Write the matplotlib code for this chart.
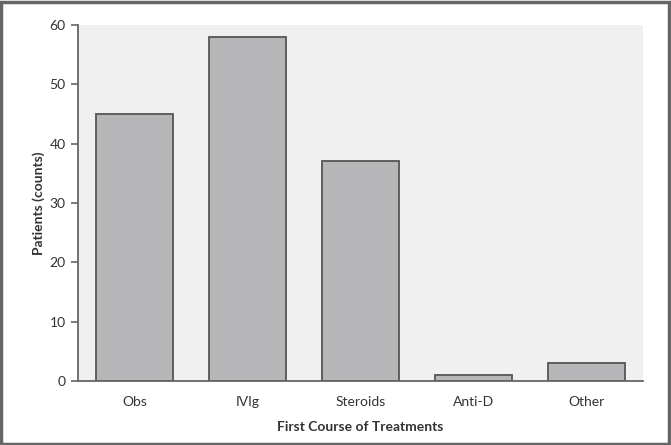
import matplotlib
matplotlib.use("Agg")
import matplotlib.pyplot as plt
from matplotlib.patches import Rectangle

categories = ["Obs", "IVIg", "Steroids", "Anti-D", "Other"]
counts = [45, 58, 37, 1, 3]
yticks = [0, 10, 20, 30, 40, 50, 60]

plt.rcParams['font.family'] = ['Lato', 'DejaVu Sans']

fig = plt.figure(figsize=(6.71, 4.45), dpi=100)
ax = fig.add_axes([78/671, 1-381/445, (643-78)/671, (381-25)/445])
ax.set_facecolor("#f0f0f0")

x = list(range(len(categories)))
ax.bar(x, counts, width=0.68, color="#b7b7b9", edgecolor="#555555", linewidth=1.3, zorder=2)

ax.set_xlim(-0.5, len(categories) - 0.5)
ax.set_ylim(0, 60)
ax.set_yticks(yticks)
ax.set_xticks(x)
ax.set_xticklabels(categories)

for s in ["top", "right"]:
    ax.spines[s].set_visible(False)
ax.spines["left"].set_color("#666666")
ax.spines["left"].set_linewidth(1.3)
ax.spines["bottom"].set_color("#666666")
ax.spines["bottom"].set_linewidth(1.3)

ax.tick_params(axis="y", direction="out", length=5, width=1.2, color="#666666",
               labelsize=10, labelcolor="#333333", pad=4)
ax.tick_params(axis="x", length=0, labelsize=10, labelcolor="#333333", pad=11)

ax.set_xlabel("First Course of Treatments", fontsize=10, fontweight="bold", color="#333333", labelpad=9)
ax.set_ylabel("Patients (counts)", fontsize=10, fontweight="bold", color="#333333", labelpad=3)

fig.patches.append(Rectangle((0.001, 0.003), 0.996, 0.993, transform=fig.transFigure,
                             fill=False, edgecolor="#666666", linewidth=2.5))

fig.savefig("out.png", dpi=100)
